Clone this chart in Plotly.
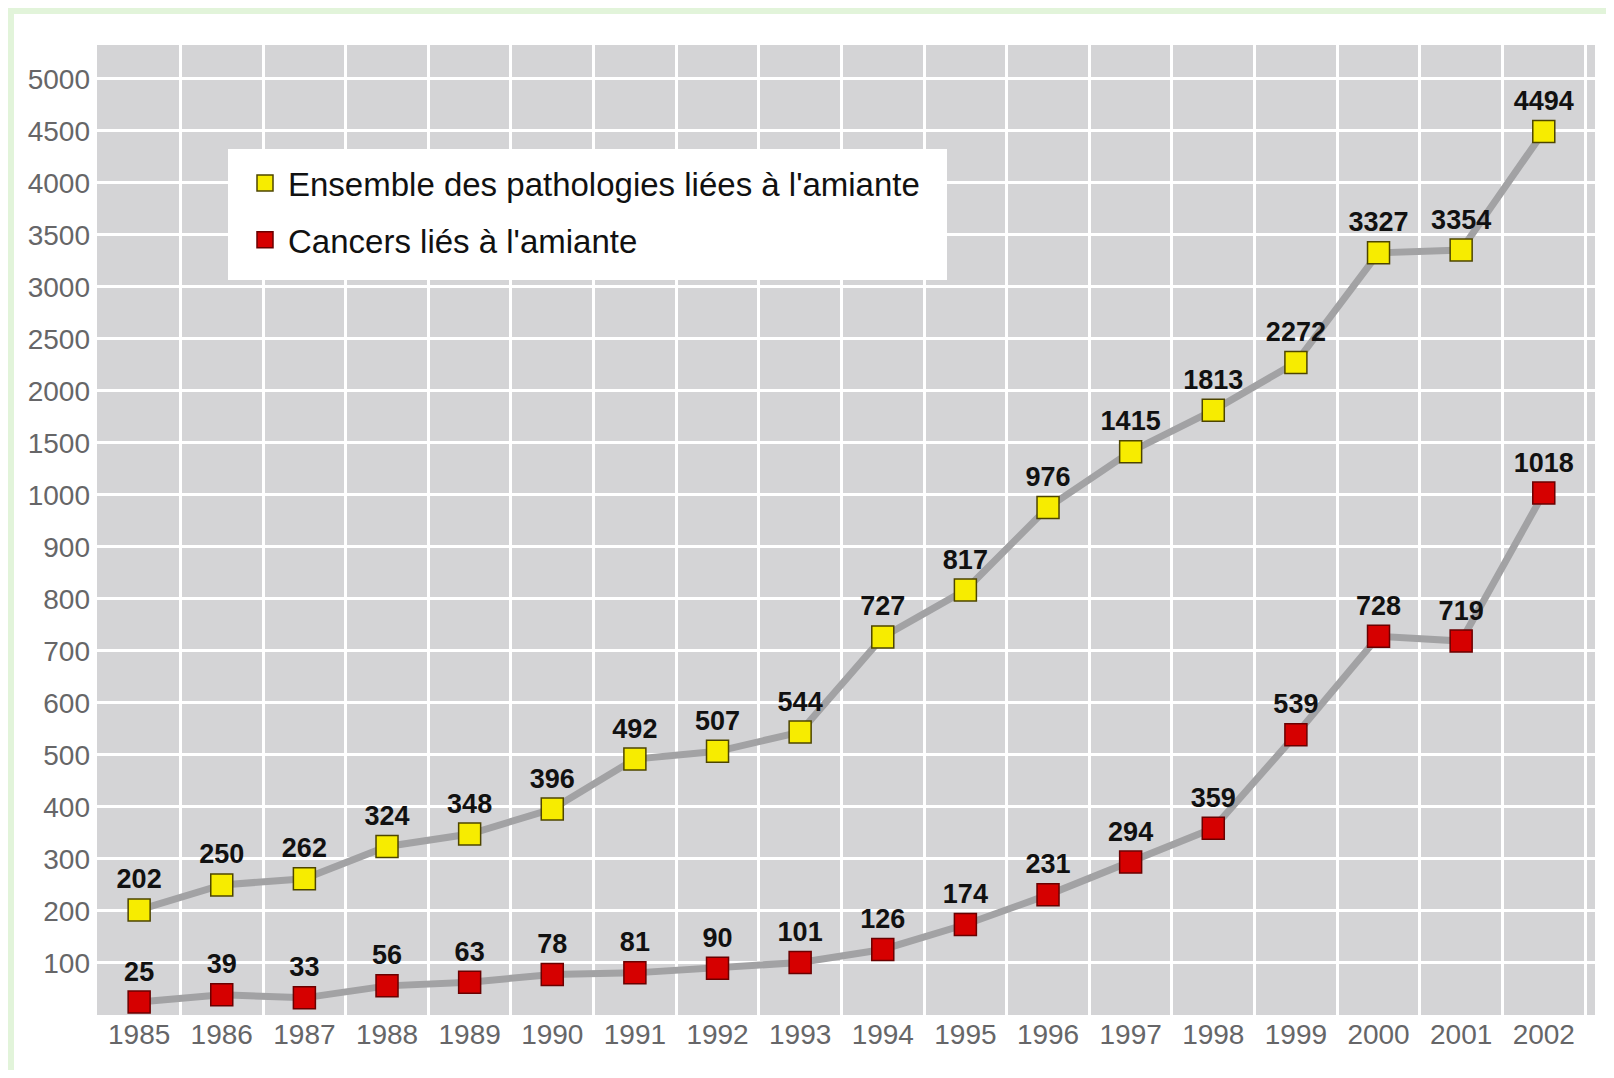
import plotly.graph_objects as go

years = list(range(1985, 2003))
ensemble = [202, 250, 262, 324, 348, 396, 492, 507, 544, 727, 817, 976, 1415, 1813, 2272, 3327, 3354, 4494]
cancers = [25, 39, 33, 56, 63, 78, 81, 90, 101, 126, 174, 231, 294, 359, 539, 728, 719, 1018]
y_tick_labels = [100, 200, 300, 400, 500, 600, 700, 800, 900, 1000,
                 1500, 2000, 2500, 3000, 3500, 4000, 4500, 5000]
series_names = ["Ensemble des pathologies liées à l'amiante", "Cancers liés à l'amiante"]


def scale(v):
    # broken axis: 100 per step up to 1000, then 500 per step
    return v / 100.0 if v <= 1000 else 10 + (v - 1000) / 500.0


W, H = 1598, 1062
L, R, T, B = 89, 11, 37, 55
pw, ph = W - L - R, H - T - B

FONT = "Liberation Sans, Arial, sans-serif"
fig = go.Figure()

line_style = dict(color="#a2a2a4", width=7)
for vals, fill, edge in [(ensemble, "#f7ec00", "#4d4500"), (cancers, "#d60000", "#6a0000")]:
    fig.add_trace(go.Scatter(
        x=years, y=[scale(v) for v in vals],
        mode="lines+markers+text",
        line=line_style,
        marker=dict(symbol="square", size=22, color=fill, line=dict(color=edge, width=1.5)),
        text=[str(v) for v in vals], textposition="top center",
        textfont=dict(family=FONT, size=27, color="#111111", weight="bold"),
        showlegend=False, cliponaxis=False, hoverinfo="skip",
    ))

for i, (name, fill, edge) in enumerate([(series_names[0], "#f7ec00", "#4d4500"),
                                        (series_names[1], "#d60000", "#6a0000")]):
    fig.add_trace(go.Scatter(
        x=[None], y=[None], mode="markers", name=name, legendgroup=f"g{i}",
        marker=dict(symbol="square", size=22, color=fill, line=dict(color=edge, width=1.5)),
    ))

# legend white box
fig.add_shape(type="rect", xref="paper", yref="paper",
              x0=(220 - L) / pw, x1=(939 - L) / pw,
              y0=1 - (272 - T) / ph, y1=1 - (141 - T) / ph,
              fillcolor="white", line=dict(width=0), layer="above")
# light green outer frame (top and left edges)
fig.add_shape(type="line", xref="paper", yref="paper",
              x0=-L / pw, x1=1 + R / pw, y0=1 + (T - 3) / ph, y1=1 + (T - 3) / ph,
              line=dict(color="#e2f4da", width=6), layer="above")
fig.add_shape(type="line", xref="paper", yref="paper",
              x0=(-L + 3) / pw, x1=(-L + 3) / pw, y0=-B / ph, y1=1 + T / ph,
              line=dict(color="#e2f4da", width=6), layer="above")

fig.update_layout(
    width=W, height=H,
    margin=dict(l=L, r=R, t=T, b=B),
    paper_bgcolor="white", plot_bgcolor="#d4d4d6",
    font=dict(family=FONT),
    legend=dict(x=(234 - L) / pw, y=1 - (147 - T) / ph, xanchor="left", yanchor="top",
                bgcolor="rgba(0,0,0,0)", borderwidth=0,
                font=dict(family=FONT, size=33, color="#111111"),
                tracegroupgap=11, itemwidth=36, itemsizing="trace"),
    xaxis=dict(range=[1984.49, 2002.62], tickmode="array", tickvals=years,
               ticktext=[str(y) for y in years], showgrid=False, zeroline=False,
               ticks="", showline=False,
               tickfont=dict(family=FONT, size=28, color="#666668"),
               minor=dict(tickmode="array", tickvals=[y + 0.5 for y in years],
                          showgrid=True, gridcolor="white", gridwidth=3, ticks="")),
    yaxis=dict(range=[0, 18.65], tickmode="array", tickvals=list(range(1, 19)),
               ticktext=[str(v) for v in y_tick_labels], showgrid=True,
               gridcolor="white", gridwidth=3, zeroline=False, ticks="",
               tickfont=dict(family=FONT, size=28, color="#666668"), ticklabelstandoff=6),
)

fig.write_html("out.html")
